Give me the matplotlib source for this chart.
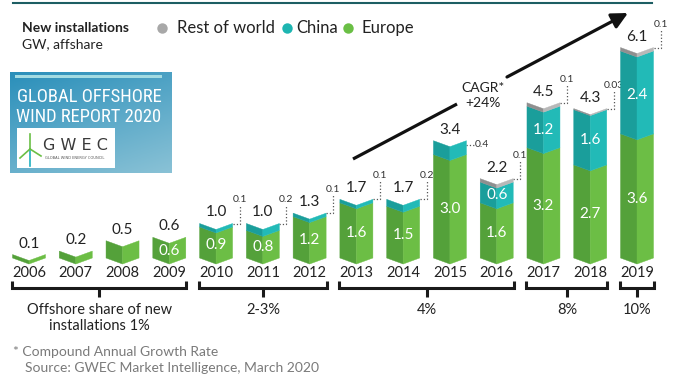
import numpy as np
import matplotlib
matplotlib.use("Agg")
import matplotlib.pyplot as plt
from matplotlib.patches import Polygon, Rectangle

plt.rcParams['font.family'] = ['Lato', 'DejaVu Sans']

# data (GW, offshore)
years = ["2006", "2007", "2008", "2009", "2010", "2011", "2012",
         "2013", "2014", "2015", "2016", "2017", "2018", "2019"]
europe = [0.1, 0.2, 0.5, 0.6, 0.9, 0.8, 1.2, 1.6, 1.5, 3.0, 1.6, 3.2, 2.7, 3.6]
china = [0, 0, 0, 0, 0.1, 0.2, 0.1, 0.1, 0.2, 0.4, 0.6, 1.2, 1.6, 2.4]
rest = [0, 0, 0, 0, 0, 0, 0, 0, 0, 0, 0.1, 0.1, 0.03, 0.1]
total_labels = ["0.1", "0.2", "0.5", "0.6", "1.0", "1.0", "1.3",
                "1.7", "1.7", "3.4", "2.2", "4.5", "4.3", "6.1"]
europe_labels = ["", "", "", "0.6", "0.9", "0.8", "1.2",
                 "1.6", "1.5", "3.0", "1.6", "3.2", "2.7", "3.6"]
china_labels = ["", "", "", "", "", "", "", "", "", "", "0.6", "1.2", "1.6", "2.4"]
small_labels = ["", "", "", "", "0.1", "0.2", "0.1",
                "0.1", "0.2", "0.4", "0.1", "0.1", "0.03", "0.1"]
share_groups = [(0, 3), (4, 6), (7, 10), (11, 12), (13, 13)]
share_labels = ["Offshore share of new\ninstallations 1%", "2-3%", "4%", "8%", "10%"]

# pixel helpers (figure is 680x384, bars 46.77 px apart, 34.5 px per GW)
X0, DX, Y0, DY = 29.0, 46.77, 258.0, 34.5
def px(x):
    return (x - X0) / DX
def py(y):
    return (Y0 - y) / DY

half = 16.5 / DX
notch = 6.0 / DY

fig = plt.figure(figsize=(6.8, 3.84), dpi=100)
ax = fig.add_axes([0, 0, 1, 1])
ax.axis("off")
XL = (px(0), px(680))
YL = (py(384), py(0))

seg_colors = [("#54a13a", "#6cbe45"), ("#1a9e9b", "#22bab7"), ("#8f8f8f", "#b8b8b8")]

for i in range(len(years)):
    base = 0
    for val, (cl, cr) in zip([europe[i], china[i], rest[i]], seg_colors):
        if val <= 0:
            continue
        y0, y1 = base, base + val
        ax.add_patch(Polygon([(i - half, y0), (i, y0 - notch), (i, y1 - notch), (i - half, y1)],
                             closed=True, fc=cl, ec=cl, lw=0.3, zorder=3))
        ax.add_patch(Polygon([(i, y0 - notch), (i + half, y0), (i + half, y1), (i, y1 - notch)],
                             closed=True, fc=cr, ec=cr, lw=0.3, zorder=3))
        base = y1
    top = base
    ax.text(i, top + 4 / DY, total_labels[i], ha="center", va="bottom",
            fontsize=11, color="#222222", zorder=5)
    if europe_labels[i]:
        ax.text(i, europe[i] / 2 - notch / 2, europe_labels[i], ha="center", va="center",
                fontsize=11, color="white", zorder=5)
    if china_labels[i]:
        ax.text(i, europe[i] + china[i] / 2 - notch / 2, china_labels[i], ha="center",
                va="center", fontsize=11, color="white", zorder=5)
    if small_labels[i]:
        if years[i] == "2015":
            yy = top - 4 / DY
            ax.plot([i + half, i + half + 8 / DX], [yy, yy], ls=":", lw=0.9, color="#555555")
            ax.text(i + half + 8 / DX, yy, small_labels[i], ha="left", va="center",
                    fontsize=7.5, color="#333333")
        else:
            lx = i + half + 7 / DX
            ax.plot([i + half, lx, lx], [top, top, top + 18 / DY], ls=":", lw=0.9,
                    color="#555555")
            ax.text(lx, top + 19 / DY, small_labels[i], ha="center", va="bottom",
                    fontsize=7.5, color="#333333")
    ax.text(i, py(273), years[i], ha="center", va="center", fontsize=10.5, color="#222222")

# share brackets
for (a, b), lab in zip(share_groups, share_labels):
    l, r = a - 17 / DX, b + 17 / DX
    c = (l + r) / 2
    ax.plot([l, l, r, r], [py(281), py(288), py(288), py(281)], color="#1a1a1a",
            lw=2.2, solid_joinstyle="miter", solid_capstyle="butt")
    ax.plot([c, c], [py(288), py(297)], color="#1a1a1a", lw=2.2, solid_capstyle="butt")
    ax.text(c, py(303), lab, ha="center", va="top", fontsize=10.5, color="#222222",
            linespacing=1.15)

# CAGR arrow
ax.plot([px(353), px(457)], [py(159), py(104)], color="#111111", lw=2.3, solid_capstyle="butt")
ax.annotate("", xy=(px(628), py(13)), xytext=(px(507), py(77)),
            arrowprops=dict(arrowstyle="-|>", lw=2.3, color="#111111", mutation_scale=24,
                            shrinkA=0, shrinkB=0))
ax.text(px(483), py(88), "CAGR*", ha="center", va="center", fontsize=10, color="#222222")
ax.text(px(483), py(103), "+24%", ha="center", va="center", fontsize=10, color="#222222")

# header and legend
ax.plot([px(13), px(652)], [py(3), py(3)], color="#1d5e63", lw=1.5)
ax.text(px(22), py(28), "New installations", ha="left", va="center", fontsize=10,
        fontweight="bold", color="#222222")
ax.text(px(22), py(44), "GW, affshare", ha="left", va="center", fontsize=10, color="#222222")
for cx, tx, name, col in [(162, 177, "Rest of world", "#a8a8a8"),
                          (287, 296, "China", "#1db5b1"),
                          (348, 362, "Europe", "#6abf45")]:
    ax.plot(px(cx), py(28), marker="o", ms=7.5, color=col, mec="none")
    ax.text(px(tx), py(28), name, ha="left", va="center", fontsize=12, color="#222222")

# report logo
u = np.linspace(0, 1, 120)[None, :]
v = np.linspace(0, 1, 80)[:, None]
t = np.clip(0.65 * v + 0.35 * u, 0, 1)[..., None]
c0 = np.array([0x2a, 0x8f, 0xba]) / 255
c1 = np.array([0x8a, 0xc2, 0xd6]) / 255
grad = c0 * (1 - t) + c1 * t
ax.imshow(grad, extent=(px(10), px(172), py(173), py(72)), aspect="auto", zorder=1,
          origin="upper")
ax.add_patch(Rectangle((px(15), py(78)), px(162) - px(15), py(75) - py(78),
                       fc="#a3dbe2", ec="none", zorder=2))
narrow = ["Roboto Condensed", "Liberation Sans Narrow", "Roboto", "DejaVu Sans"]
logo_txt = []
for yy, s in [(97, "GLOBAL OFFSHORE"), (117, "WIND REPORT 2020")]:
    logo_txt.append(ax.text(px(89), py(yy), s, ha="center", va="center", fontsize=14,
                            family=narrow, color="white", zorder=3))
# shrink the logo lines until they fit inside the 146 px wide banner
fig.canvas.draw()
rend = fig.canvas.get_renderer()
for tt in logo_txt:
    w = tt.get_window_extent(rend).width
    if w > 146:
        tt.set_fontsize(14 * 146 / w)

ax.add_patch(Rectangle((px(17), py(168)), px(115) - px(17), py(128) - py(168),
                       fc="white", ec="none", zorder=2))
ax.text(px(75), py(145), "G W E C", ha="center", va="center", fontsize=11.5,
        family="DejaVu Sans", color="#3a3a3a", zorder=3)
ax.text(px(75), py(158), "GLOBAL WIND ENERGY COUNCIL", ha="center", va="center",
        fontsize=2.6, family="DejaVu Sans", color="#555555", zorder=3)
ax.plot([px(30), px(30)], [py(149), py(166)], color="#1fb0c0", lw=1.2, zorder=3)
for bx, by in [(30, 134), (20, 158), (41, 156)]:
    ax.plot([px(30), px(bx)], [py(149), py(by)], color="#6abf45", lw=1.2, zorder=3)

# footnote
ax.text(px(13), py(352), "* Compound Annual Growth Rate", ha="left", va="center",
        fontsize=10, color="#7a7a7a")
ax.text(px(25), py(368), "Source: GWEC Market Intelligence, March 2020", ha="left",
        va="center", fontsize=10, color="#7a7a7a")

ax.set_xlim(*XL)
ax.set_ylim(*YL)
fig.savefig("out.png", dpi=100)
